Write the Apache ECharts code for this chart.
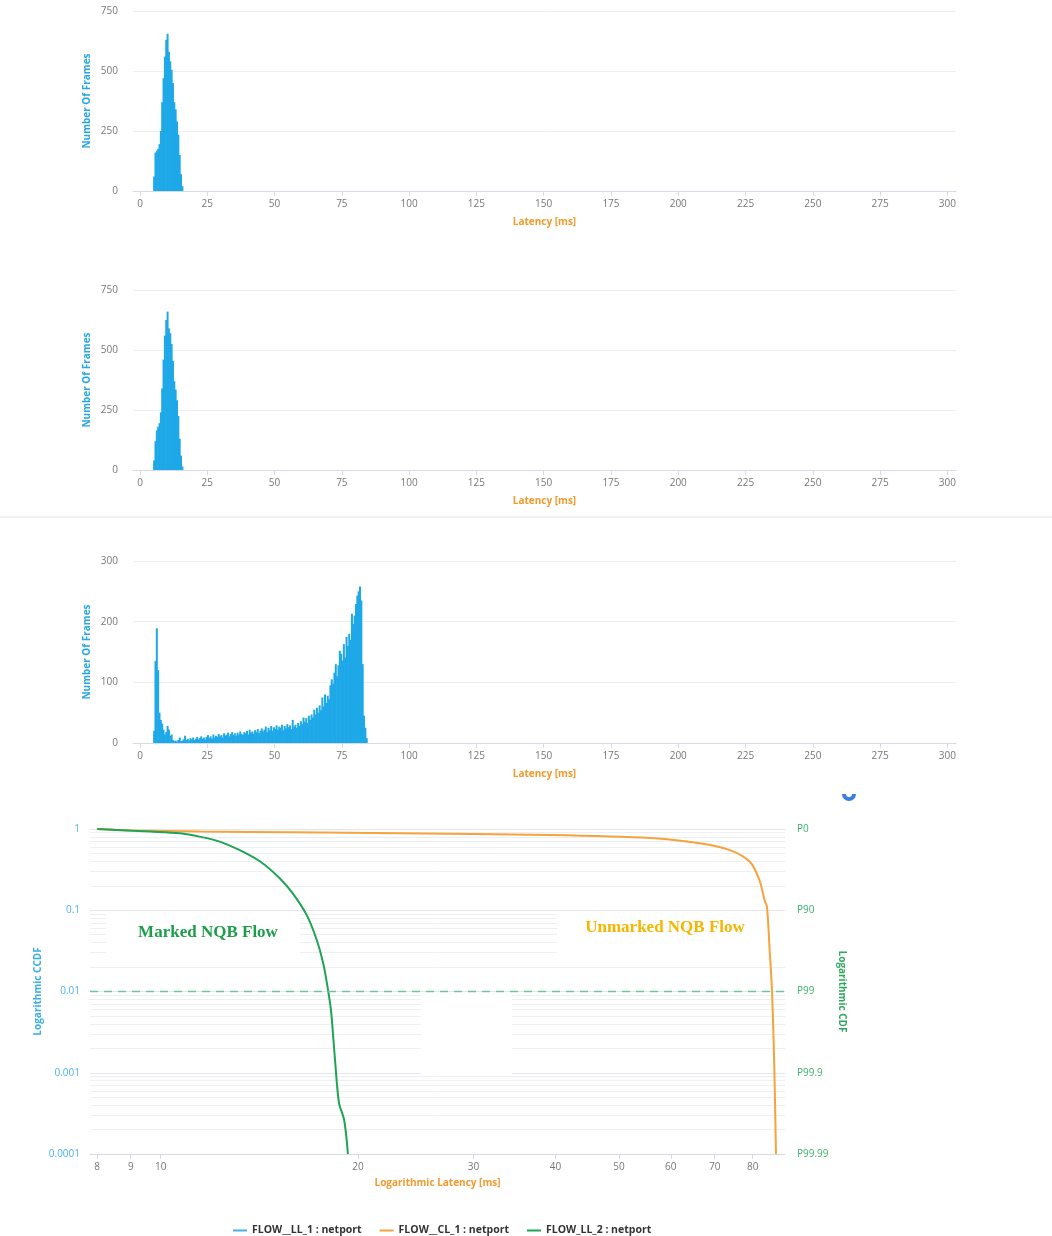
<!DOCTYPE html>
<html>
<head>
<meta charset="utf-8">
<title>Latency histograms and CCDF</title>
<script src="https://cdn.jsdelivr.net/npm/echarts@6/dist/echarts.min.js"></script>
<style>
  html, body { margin: 0; padding: 0; background: #fff; }
  #chart { width: 1052px; height: 1236px; }
</style>
</head>
<body>
<div id="chart"></div>
<script>
  // histogram bins are 0.5 ms wide, first bin centred on 5.25 ms
  var binStart = 5.25
  var binStep = 0.5

  var hist1 = [60, 160, 168, 175, 195, 250, 370, 470, 560, 630, 655, 580, 540, 505, 450, 370, 340, 290, 235, 150, 70, 20]
  var hist2 = [40, 120, 165, 180, 195, 240, 340, 460, 560, 625, 660, 590, 570, 525, 455, 370, 335, 290, 225, 130, 60, 15]
  var hist3 = [
    20, 135, 189, 120, 50, 38, 32, 22, 14, 18,
    28, 22, 12, 14, 5, 3, 4, 2, 5, 9,
    3, 4, 6, 12, 5, 7, 4, 8, 6, 9,
    5, 7, 10, 6, 8, 11, 7, 9, 6, 10,
    13, 8, 11, 7, 14, 9, 12, 10, 15, 11,
    13, 9, 16, 12, 14, 17, 11, 15, 18, 13,
    16, 12, 17, 14, 19, 15, 13, 18, 16, 20,
    14, 22, 17, 19, 15, 21, 18, 23, 16, 20,
    24, 19, 22, 27, 18, 25, 21, 28, 20, 26,
    23, 29, 22, 27, 25, 30, 21, 28, 24, 31,
    26, 29, 23, 38, 27, 30, 25, 33, 28, 36,
    31, 42, 35, 41, 33, 45, 38, 47, 42, 55,
    47, 58, 50, 62, 54, 75, 60, 80, 66, 78,
    72, 95, 105, 98, 116, 130, 110, 128, 152, 147,
    136, 163, 141, 175, 160, 180, 170, 213, 196, 210,
    229, 243, 250, 258, 235, 130, 45, 25, 8,
  ]

  var latencyTicks = [0, 25, 50, 75, 100, 125, 150, 175, 200, 225, 250, 275, 300]
  var logLatencyTicks = [8, 9, 10, 20, 30, 40, 50, 60, 70, 80]
  var ccdfTicks = [1, 0.1, 0.01, 0.001, 0.0001]
  var cdfLabels = ['P0', 'P90', 'P99', 'P99.9', 'P99.99']

  // FLOW__CL_1 (unmarked NQB flow)
  var clLatency = [8.0, 9.0, 11.5, 16, 23.2, 39.2, 55.8, 66.4, 73.8, 79.2, 81.9, 83.4, 84.1, 84.9, 85.6, 86.3, 86.8]
  var clCcdf = [1.0, 0.96, 0.93, 0.91, 0.885, 0.843, 0.774, 0.666, 0.55, 0.395, 0.235, 0.133, 0.11, 0.032, 0.0103, 0.00116, 0.0001]
  // FLOW_LL_2 (marked NQB flow)
  var ll2Latency = [8.0, 9.64, 10.7, 11.5, 12.3, 13.2, 14.2, 15.2, 15.9, 16.7, 17.3, 17.7, 18.0, 18.2, 18.45, 18.7, 19.05, 19.3]
  var ll2Ccdf = [1.0, 0.93, 0.885, 0.80, 0.70, 0.55, 0.395, 0.246, 0.161, 0.087, 0.043, 0.022, 0.0104, 0.0055, 0.0014, 0.00043, 0.00026, 0.0001]

  var legendNames = ['FLOW__LL_1 : netport', 'FLOW__CL_1 : netport', 'FLOW_LL_2 : netport']

  var font = 'Open Sans'
  var barColor = '#1ea8e8'
  var gridColor = '#eceef3'
  var axisColor = '#d5dae5'
  var labelColor = '#777'

  function binned (values) {
    return values.map(function (v, i) { return [binStart + i * binStep, v] })
  }
  function zip (xs, ys) {
    return xs.map(function (x, i) { return [x, ys[i]] })
  }

  // minor log gridlines (2..9 x each decade)
  var minorLines = []
  for (var k = -4; k <= -1; k++) {
    for (var m = 2; m <= 9; m++) {
      minorLines.push({ yAxis: m * Math.pow(10, k) })
    }
  }

  function latencyAxis (grid) {
    return {
      type: 'value',
      gridIndex: grid,
      min: -2.6,
      max: 303.2,
      name: 'Latency [ms]',
      nameLocation: 'middle',
      nameGap: 26,
      nameMoveOverlap: false,
      nameTextStyle: { color: '#f39a2e', fontWeight: 'bold', fontSize: 10 },
      axisLine: { show: true, lineStyle: { color: axisColor } },
      axisTick: { show: true, length: 5, lineStyle: { color: axisColor }, customValues: latencyTicks },
      axisLabel: { color: labelColor, fontSize: 10, margin: 8, customValues: latencyTicks },
      splitLine: { show: false },
    }
  }

  function framesAxis (grid, max, step) {
    return {
      type: 'value',
      gridIndex: grid,
      min: 0,
      max: max,
      interval: step,
      name: 'Number Of Frames',
      nameLocation: 'middle',
      nameGap: 41,
      nameMoveOverlap: false,
      nameTextStyle: { color: '#2aa6e0', fontWeight: 'bold', fontSize: 10 },
      axisLine: { show: false },
      axisTick: { show: false },
      axisLabel: { color: labelColor, fontSize: 10, margin: 15 },
      splitLine: { lineStyle: { color: gridColor } },
    }
  }

  function histSeries (idx, values) {
    return {
      name: 'hist' + (idx + 1),
      type: 'bar',
      xAxisIndex: idx,
      yAxisIndex: idx,
      barWidth: 2,
      itemStyle: { color: barColor },
      data: binned(values),
    }
  }

  function ccdfLabel (v) {
    var i = Math.round(-Math.log10(v))
    return ccdfTicks[i] !== undefined ? String(ccdfTicks[i]) : ''
  }
  function cdfLabel (v) {
    var i = Math.round(-Math.log10(v))
    return cdfLabels[i] || ''
  }

  var chart = echarts.init(document.getElementById('chart'))
  var option = {
    animation: false,
    textStyle: { fontFamily: font },
    grid: [
      { left: 133, top: 11, width: 823, height: 180 },
      { left: 133, top: 290, width: 823, height: 180 },
      { left: 133, top: 561, width: 823, height: 182 },
      { left: 90, top: 829, width: 695, height: 325 },
    ],
    xAxis: [
      latencyAxis(0),
      latencyAxis(1),
      latencyAxis(2),
      {
        type: 'log',
        gridIndex: 3,
        min: 7.8,
        max: 89.6,
        name: 'Logarithmic Latency [ms]',
        nameLocation: 'middle',
        nameGap: 24,
        nameMoveOverlap: false,
        nameTextStyle: { color: '#f39a2e', fontWeight: 'bold', fontSize: 10 },
        axisLine: { show: true, lineStyle: { color: axisColor } },
        axisTick: { show: true, length: 5, lineStyle: { color: axisColor }, customValues: logLatencyTicks },
        axisLabel: { color: labelColor, fontSize: 10, margin: 8, customValues: logLatencyTicks },
        splitLine: { show: false },
      },
    ],
    yAxis: [
      framesAxis(0, 750, 250),
      framesAxis(1, 750, 250),
      framesAxis(2, 300, 100),
      {
        type: 'log',
        gridIndex: 3,
        min: 0.0001,
        max: 1,
        name: 'Logarithmic CCDF',
        nameLocation: 'middle',
        nameGap: 47,
        nameMoveOverlap: false,
        nameTextStyle: { color: '#3aaee6', fontWeight: 'bold', fontSize: 10 },
        axisLine: { show: false },
        axisTick: { show: false },
        axisLabel: { color: '#4ab3e9', fontSize: 10, margin: 10, formatter: ccdfLabel },
        splitLine: { lineStyle: { color: '#e4e6ea' } },
      },
      {
        type: 'log',
        gridIndex: 3,
        position: 'right',
        min: 0.0001,
        max: 1,
        name: 'Logarithmic CDF',
        nameLocation: 'middle',
        nameRotate: -90,
        nameGap: 52,
        nameMoveOverlap: false,
        nameTextStyle: { color: '#2fa85e', fontWeight: 'bold', fontSize: 10 },
        axisLine: { show: false },
        axisTick: { show: false },
        axisLabel: { color: '#3db36b', fontSize: 10, margin: 12, formatter: cdfLabel },
        splitLine: { show: false },
      },
    ],
    legend: {
      data: legendNames,
      left: 228,
      top: 1220,
      icon: 'rect',
      itemWidth: 14,
      itemHeight: 2,
      itemGap: 18,
      textStyle: { color: '#333', fontWeight: 'bold', fontSize: 10.5 },
    },
    graphic: [
      // blanked patches in the gridlines of the bottom chart
      { type: 'rect', z: 1, silent: true, shape: { x: 106, y: 912, width: 194, height: 54 }, style: { fill: '#fff' } },
      { type: 'rect', z: 1, silent: true, shape: { x: 557, y: 912, width: 228, height: 53 }, style: { fill: '#fff' } },
      { type: 'rect', z: 1, silent: true, shape: { x: 421, y: 994, width: 91, height: 82 }, style: { fill: '#fff' } },
      { type: 'rect', z: 1, silent: true, shape: { x: 0, y: 516, width: 1052, height: 2 }, style: { fill: '#f2f2f2' } },
      {
        type: 'text', z: 10, x: 208, y: 933,
        style: { text: 'Marked NQB Flow', font: 'bold 17px "Liberation Serif"', fill: '#1c9e4b', align: 'center', verticalAlign: 'middle' },
      },
      {
        type: 'text', z: 10, x: 665, y: 928,
        style: { text: 'Unmarked NQB Flow', font: 'bold 17px "Liberation Serif"', fill: '#f7b500', align: 'center', verticalAlign: 'middle' },
      },
      { type: 'sector', z: 10, shape: { cx: 849, cy: 794, r: 7, r0: 3, startAngle: 0, endAngle: Math.PI }, style: { fill: '#3b7fe0' } },
    ],
    series: [
      histSeries(0, hist1),
      histSeries(1, hist2),
      histSeries(2, hist3),
      {
        name: 'minor',
        type: 'line',
        xAxisIndex: 3,
        yAxisIndex: 3,
        z: 0,
        data: [],
        silent: true,
        markLine: {
          silent: true,
          z: 0.5,
          precision: 6,
          symbol: 'none',
          label: { show: false },
          lineStyle: { color: '#eeeff2', type: 'solid', width: 1 },
          data: minorLines,
        },
      },
      {
        name: legendNames[0],
        type: 'line',
        xAxisIndex: 3,
        yAxisIndex: 3,
        color: '#4ab1e6',
        showSymbol: false,
        data: [],
      },
      {
        name: legendNames[1],
        type: 'line',
        xAxisIndex: 3,
        yAxisIndex: 3,
        z: 3,
        color: '#f5a33c',
        showSymbol: false,
        smooth: 0.3,
        lineStyle: { width: 2 },
        data: zip(clLatency, clCcdf),
      },
      {
        name: legendNames[2],
        type: 'line',
        xAxisIndex: 3,
        yAxisIndex: 3,
        z: 3,
        color: '#1fa354',
        showSymbol: false,
        smooth: 0.3,
        lineStyle: { width: 2 },
        data: zip(ll2Latency, ll2Ccdf),
        markLine: {
          silent: true,
          symbol: 'none',
          precision: 6,
          label: { show: false },
          lineStyle: { color: '#6cc59a', type: [8, 6], width: 1.3 },
          data: [{ yAxis: 0.01 }],
        },
      },
    ],
  }
  chart.setOption(option)
</script>
</body>
</html>
